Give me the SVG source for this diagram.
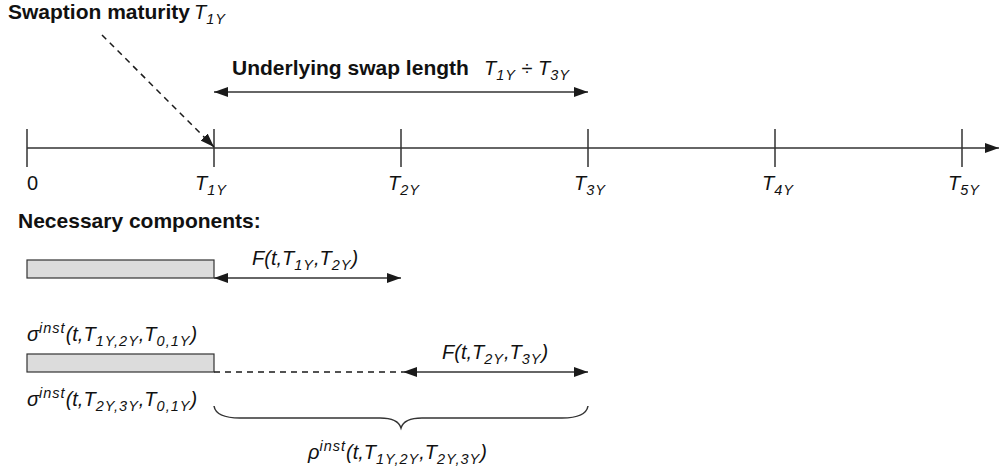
<svg xmlns="http://www.w3.org/2000/svg" width="1003" height="467" viewBox="0 0 1003 467">
<defs>
<marker id="ah" viewBox="0 0 14 10" refX="14" refY="5" markerWidth="14" markerHeight="10" markerUnits="userSpaceOnUse" orient="auto-start-reverse">
<path d="M0,0 L14,5 L0,10 Z" fill="#1a1a1a"/>
</marker>
<style>
.ln{stroke:#333;stroke-width:1.5;fill:none}
.dash{stroke:#1a1a1a;stroke-width:1.5;fill:none;stroke-dasharray:6,5}
.b{font-family:"Liberation Sans",Arial,sans-serif;font-weight:bold;font-size:21px;fill:#111}
.m{font-family:"Liberation Sans",Arial,sans-serif;font-style:italic;font-weight:normal;font-size:20px;fill:#111}
.r{font-style:normal}
.s{font-size:14.5px;letter-spacing:1px}
.box{fill:#dcdcdc;stroke:#333;stroke-width:1.2}
</style>
</defs>
<rect width="1003" height="467" fill="#fff"/>

<g id="timeline">
<line class="ln" x1="27" y1="148" x2="999" y2="148" marker-end="url(#ah)"/>
<path class="ln" d="M27,129V167M214,129V167M401,129V167M588,129V167M775,129V167M962,129V167"/>
</g>

<g id="tick-labels">
<text class="m r" x="27" y="190">0</text>
<text class="m" x="195" y="190">T<tspan class="s" dy="5">1Y</tspan></text>
<text class="m" x="388" y="190">T<tspan class="s" dy="5">2Y</tspan></text>
<text class="m" x="574" y="190">T<tspan class="s" dy="5">3Y</tspan></text>
<text class="m" x="762" y="190">T<tspan class="s" dy="5">4Y</tspan></text>
<text class="m" x="948" y="190">T<tspan class="s" dy="5">5Y</tspan></text>
</g>

<g id="swaption-maturity">
<text class="b" x="8" y="19">Swaption maturity</text>
<text class="m" x="194" y="19">T<tspan class="s" dy="5">1Y</tspan></text>
</g>

<g id="underlying-swap">
<text class="b" x="232" y="75">Underlying swap length</text>
<text class="m" x="484" y="75">T<tspan class="s" dy="5">1Y</tspan><tspan class="r" dy="-5"> ÷ </tspan>T<tspan class="s" dy="5">3Y</tspan></text>
</g>

<g id="necessary">
<text class="b" x="18" y="228">Necessary components:</text>
</g>

<g id="forward-1">
<rect class="box" x="27" y="260" width="187" height="18"/>
<text class="m" x="252" y="265">F(t,T<tspan class="s" dy="5">1Y</tspan><tspan dy="-5">,T</tspan><tspan class="s" dy="5">2Y</tspan><tspan dy="-5">)</tspan></text>
</g>

<g id="sigma-1">
<text class="m" x="27" y="341">σ<tspan class="s" dy="-8">inst</tspan><tspan dy="8">(t,T</tspan><tspan class="s" dy="5">1Y,2Y</tspan><tspan dy="-5">,T</tspan><tspan class="s" dy="5">0,1Y</tspan><tspan dy="-5">)</tspan></text>
<rect class="box" x="27" y="354" width="187" height="18"/>
</g>

<g id="forward-2">
<text class="m" x="442" y="359">F(t,T<tspan class="s" dy="5">2Y</tspan><tspan dy="-5">,T</tspan><tspan class="s" dy="5">3Y</tspan><tspan dy="-5">)</tspan></text>
</g>

<g id="sigma-2">
<text class="m" x="27" y="406">σ<tspan class="s" dy="-8">inst</tspan><tspan dy="8">(t,T</tspan><tspan class="s" dy="5">2Y,3Y</tspan><tspan dy="-5">,T</tspan><tspan class="s" dy="5">0,1Y</tspan><tspan dy="-5">)</tspan></text>
</g>

<g id="rho">
<text class="m" x="308" y="459">ρ<tspan class="s" dy="-8">inst</tspan><tspan dy="8">(t,T</tspan><tspan class="s" dy="5">1Y,2Y</tspan><tspan dy="-5">,T</tspan><tspan class="s" dy="5">2Y,3Y</tspan><tspan dy="-5">)</tspan></text>
</g>

<g id="connectors">
<line class="dash" x1="102" y1="35" x2="214" y2="147" marker-end="url(#ah)"/>
<line class="ln" x1="214" y1="92" x2="588" y2="92" marker-start="url(#ah)" marker-end="url(#ah)"/>
<line class="ln" x1="214" y1="278" x2="401" y2="278" marker-start="url(#ah)" marker-end="url(#ah)"/>
<line class="dash" x1="214" y1="372" x2="403" y2="372"/>
<line class="ln" x1="403" y1="372" x2="588" y2="372" marker-start="url(#ah)" marker-end="url(#ah)"/>
<path class="ln" stroke-width="1.2" d="M214,406 Q216,418 240,418 L380,418 Q398,418 401,428 Q404,418 422,418 L562,418 Q586,418 588,406"/>
</g>
</svg>
